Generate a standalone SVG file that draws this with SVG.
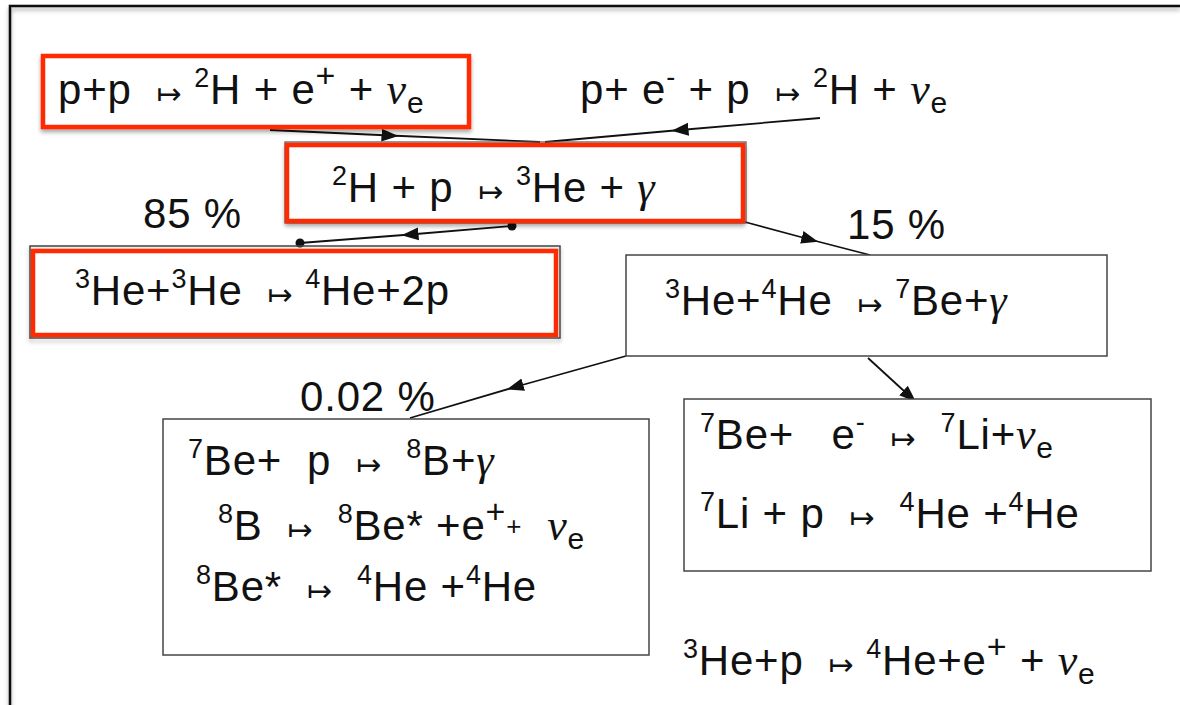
<svg xmlns="http://www.w3.org/2000/svg" width="1180" height="705" viewBox="0 0 1180 705">
<defs>
<style>
.t{font-family:"Liberation Sans",Arial,sans-serif;font-size:42px;fill:#111;letter-spacing:0.8px;white-space:pre}
.ar{font-family:"DejaVu Sans",sans-serif;font-size:30px;letter-spacing:0}
.sup{font-size:27px}
.sub{font-size:30px}
.nu{font-family:"Liberation Serif","Times New Roman",serif;font-style:italic;font-size:44px}
.red{fill:#fff;stroke:#ff2a00;stroke-width:4.5}
.gray{fill:#fff;stroke:#444;stroke-width:1.5}
.line{stroke:#111;stroke-width:1.8;fill:none}
</style>
<filter id="sh" x="-5%" y="-10%" width="110%" height="130%">
<feGaussianBlur in="SourceAlpha" stdDeviation="2"/>
<feOffset dy="3"/>
<feComponentTransfer><feFuncA type="linear" slope="0.35"/></feComponentTransfer>
<feMerge><feMergeNode/><feMergeNode in="SourceGraphic"/></feMerge>
</filter>
<marker id="ah" viewBox="0 0 10 10" refX="5" refY="5" markerWidth="17" markerHeight="17" markerUnits="userSpaceOnUse" orient="auto">
<path d="M0,1.2 L10,5 L0,8.8 Z" fill="#111"/>
</marker>
<marker id="ahEnd" viewBox="0 0 10 10" refX="10" refY="5" markerWidth="17" markerHeight="17" markerUnits="userSpaceOnUse" orient="auto">
<path d="M0,1.2 L10,5 L0,8.8 Z" fill="#111"/>
</marker>
</defs>
<rect width="1180" height="705" fill="#fff"/>
<g id="frame">
<path d="M10,705 L10,6 L1180,6" fill="none" stroke="#111" stroke-width="2.5" filter="url(#sh)"/>
</g>

<g id="connectors">
<path class="line" d="M270,130 L390,135.5 L540,142" marker-mid="url(#ah)"/>
<path class="line" d="M820,118 L680,130 L545,142" marker-mid="url(#ah)"/>
<path class="line" d="M512,226 L410,234.5 L300,243" marker-mid="url(#ah)"/>
<circle cx="512" cy="226" r="4.5" fill="#111"/>
<circle cx="300" cy="243" r="4.5" fill="#111"/>
<path class="line" d="M745,222 L810,239.5 L870,255" marker-mid="url(#ah)"/>
<path class="line" d="M626,356 L515,387 L410,418" marker-mid="url(#ah)"/>
<path class="line" d="M868,358 L916,402" marker-end="url(#ahEnd)"/>
</g>

<g id="n1">
<rect class="red" x="43" y="56" width="426" height="71" filter="url(#sh)"/>
<text class="t" x="58" y="104">p+p  <tspan class="ar">↦</tspan> <tspan class="sup" dy="-17">2</tspan><tspan dy="17">H + e</tspan><tspan dy="-17" font-size="34">+</tspan><tspan dy="17"> + </tspan><tspan class="nu">ν</tspan><tspan class="sub" dy="9">e</tspan></text>
</g>

<g id="n2">
<text class="t" x="580" y="104">p+ e<tspan class="sup" dy="-18">-</tspan><tspan dy="18"> + p  </tspan><tspan class="ar">↦</tspan> <tspan class="sup" dy="-17">2</tspan><tspan dy="17">H + </tspan><tspan class="nu">ν</tspan><tspan class="sub" dy="9">e</tspan></text>
</g>

<g id="n3">
<rect x="285" y="142" width="461" height="81" fill="none" stroke="#555" stroke-width="1.2"/>
<rect class="red" x="287" y="145" width="456" height="76" filter="url(#sh)"/>
<text class="t" x="332" y="202"><tspan class="sup" dy="-17">2</tspan><tspan dy="17">H + p  </tspan><tspan class="ar">↦</tspan> <tspan class="sup" dy="-17">3</tspan><tspan dy="17">He + </tspan><tspan class="nu" font-size="50">γ</tspan></text>
</g>

<g id="l85"><text class="t" x="143" y="228">85 %</text></g>
<g id="l15"><text class="t" x="847" y="239">15 %</text></g>
<g id="l002"><text class="t" x="300" y="411">0.02 %</text></g>

<g id="n4">
<rect x="30" y="246" width="530" height="92" fill="none" stroke="#444" stroke-width="1.5" filter="url(#sh)"/>
<rect class="red" x="33" y="251" width="523" height="84"/>
<text class="t" x="75" y="305"><tspan class="sup" dy="-17">3</tspan><tspan dy="17">He+</tspan><tspan class="sup" dy="-17">3</tspan><tspan dy="17">He  </tspan><tspan class="ar">↦</tspan> <tspan class="sup" dy="-17">4</tspan><tspan dy="17">He+2p</tspan></text>
</g>

<g id="n5">
<rect class="gray" x="626" y="255" width="481" height="101"/>
<text class="t" x="665" y="315"><tspan class="sup" dy="-17">3</tspan><tspan dy="17">He+</tspan><tspan class="sup" dy="-17">4</tspan><tspan dy="17">He  </tspan><tspan class="ar">↦</tspan> <tspan class="sup" dy="-17">7</tspan><tspan dy="17">Be+</tspan><tspan class="nu">γ</tspan></text>
</g>

<g id="n6">
<rect class="gray" x="163" y="419" width="486" height="236"/>
<text class="t" x="188" y="475"><tspan class="sup" dy="-17">7</tspan><tspan dy="17">Be+  p  </tspan><tspan class="ar">↦</tspan>  <tspan class="sup" dy="-17">8</tspan><tspan dy="17">B+</tspan><tspan class="nu">γ</tspan></text>
<text class="t" x="218" y="540"><tspan class="sup" dy="-17">8</tspan><tspan dy="17">B  </tspan><tspan class="ar">↦</tspan>  <tspan class="sup" dy="-17">8</tspan><tspan dy="17">Be* +e</tspan><tspan dy="-17" font-size="34">+</tspan><tspan dy="12" font-size="26">+</tspan><tspan dy="5">  </tspan><tspan class="nu">ν</tspan><tspan class="sub" dy="9">e</tspan></text>
<text class="t" x="196" y="601"><tspan class="sup" dy="-17">8</tspan><tspan dy="17">Be*  </tspan><tspan class="ar">↦</tspan>  <tspan class="sup" dy="-17">4</tspan><tspan dy="17">He +</tspan><tspan class="sup" dy="-17">4</tspan><tspan dy="17">He</tspan></text>
</g>

<g id="n7">
<rect class="gray" x="684" y="399" width="467" height="172"/>
<text class="t" x="700" y="449"><tspan class="sup" dy="-17">7</tspan><tspan dy="17">Be+   e</tspan><tspan class="sup" dy="-18">-</tspan><tspan dy="18">  </tspan><tspan class="ar">↦</tspan>  <tspan class="sup" dy="-17">7</tspan><tspan dy="17">Li+</tspan><tspan class="nu">ν</tspan><tspan class="sub" dy="9">e</tspan></text>
<text class="t" x="700" y="528"><tspan class="sup" dy="-17">7</tspan><tspan dy="17">Li + p  </tspan><tspan class="ar">↦</tspan>  <tspan class="sup" dy="-17">4</tspan><tspan dy="17">He +</tspan><tspan class="sup" dy="-17">4</tspan><tspan dy="17">He</tspan></text>
</g>

<g id="n8">
<text class="t" x="683" y="675"><tspan class="sup" dy="-17">3</tspan><tspan dy="17">He+p  </tspan><tspan class="ar">↦</tspan> <tspan class="sup" dy="-17">4</tspan><tspan dy="17">He+e</tspan><tspan dy="-17" font-size="34">+</tspan><tspan dy="17"> + </tspan><tspan class="nu">ν</tspan><tspan class="sub" dy="9">e</tspan></text>
</g>
</svg>
